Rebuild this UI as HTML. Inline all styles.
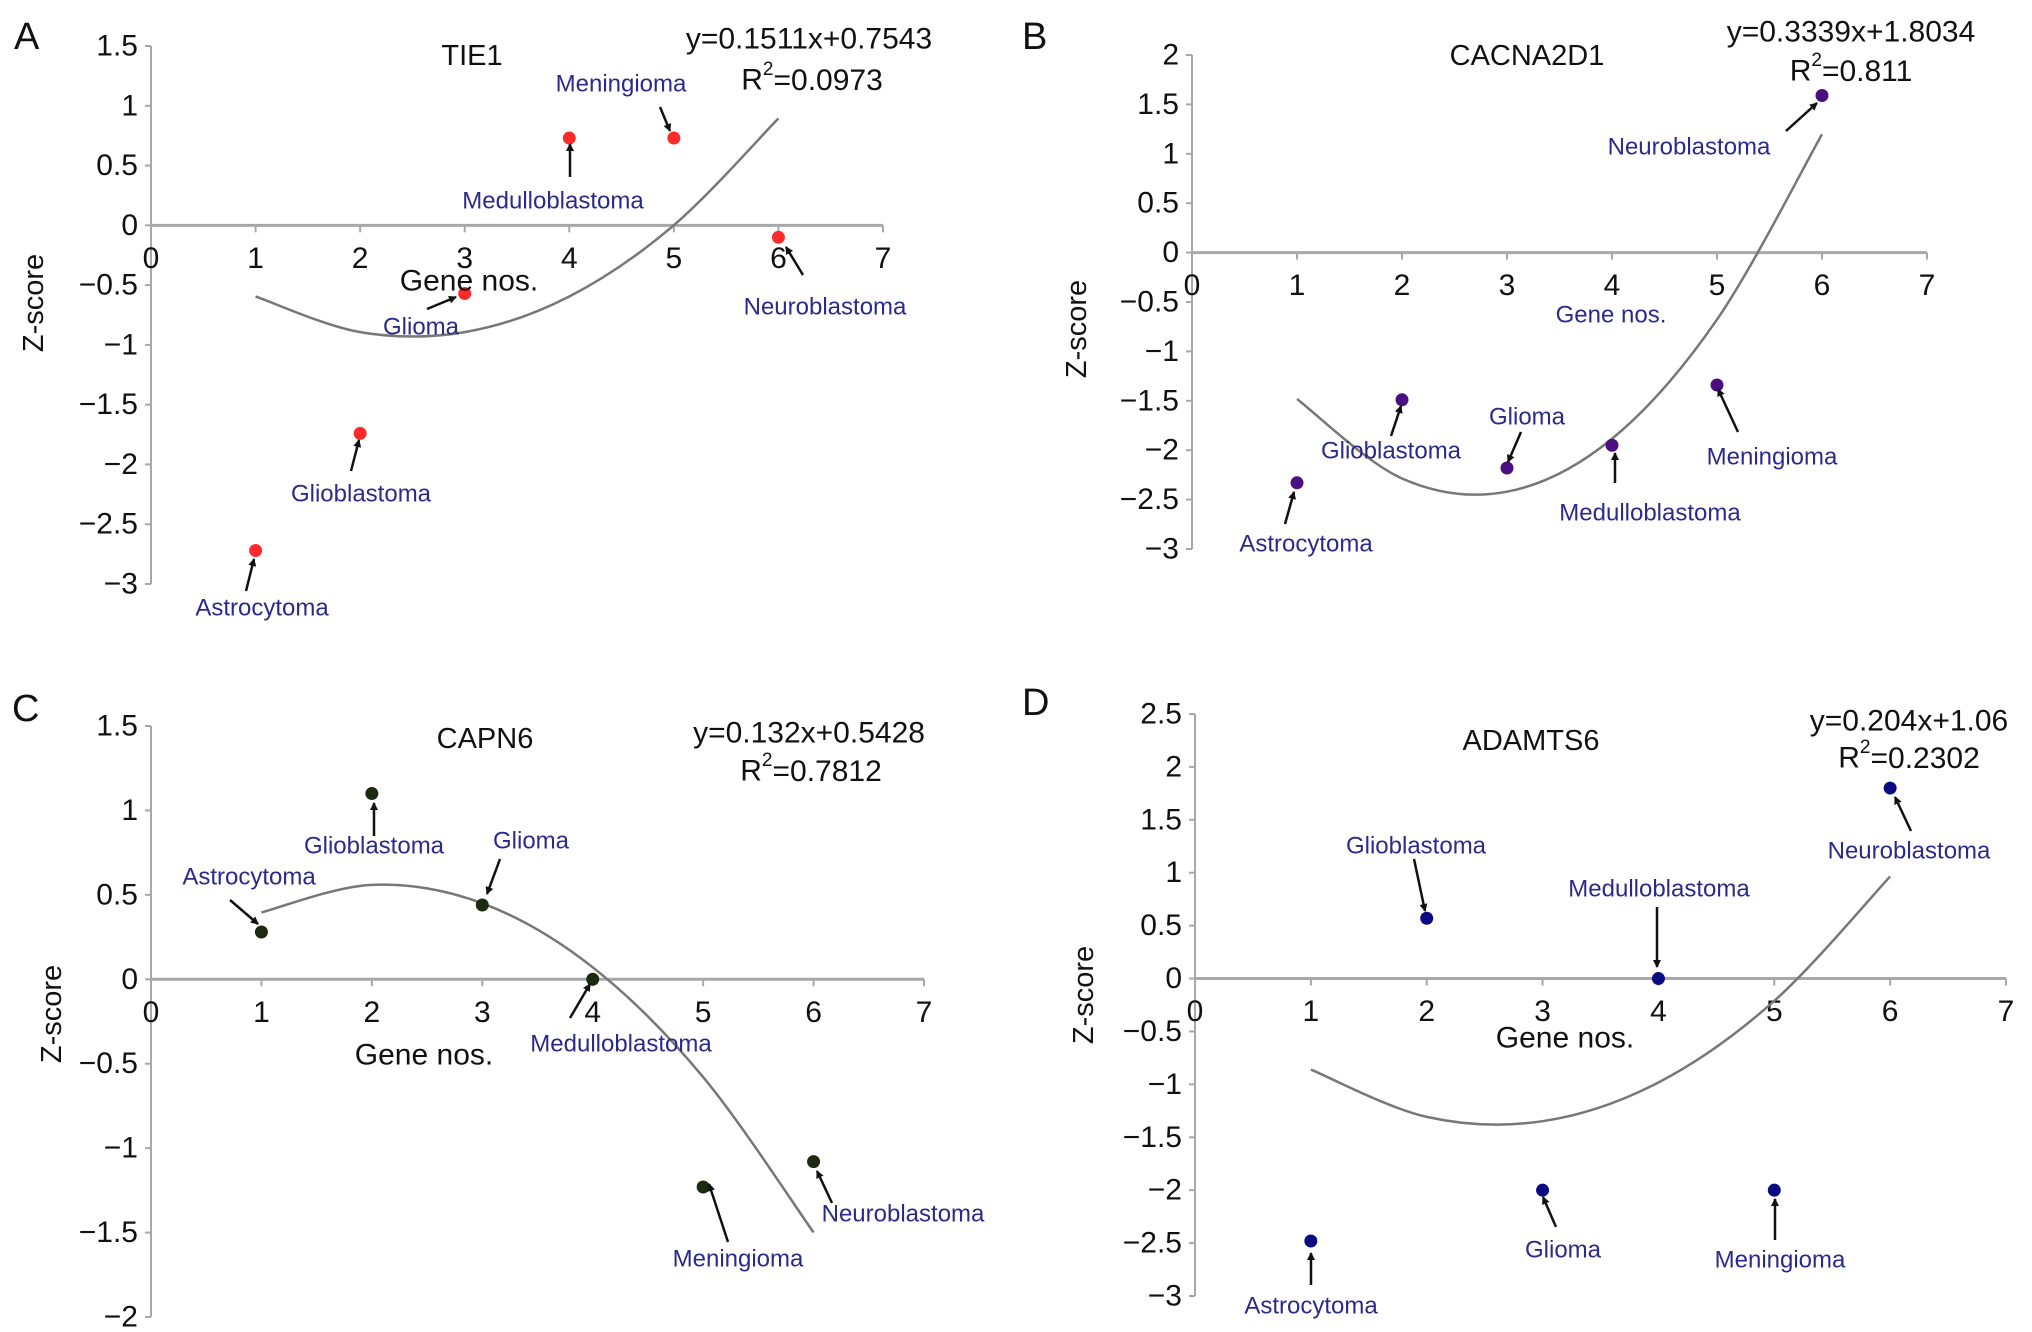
<!DOCTYPE html>
<html><head><meta charset="utf-8">
<style>
html,body{margin:0;padding:0;background:#fff;}
svg{display:block;font-family:"Liberation Sans",Arial,sans-serif;}
</style></head>
<body>
<svg id="fig" width="2032" height="1332" viewBox="0 0 2032 1332" xmlns="http://www.w3.org/2000/svg">
<defs>
<marker id="ah" markerWidth="8" markerHeight="8" refX="7" refY="4" orient="auto" markerUnits="userSpaceOnUse"><path d="M0,0 L8,4 L0,8 Z" fill="#111"/></marker>
</defs>
</svg>
<script>
// ---- data ----
const xCats = [1,2,3,4,5,6];
const xTicks = [0,1,2,3,4,5,6,7];
const namesA = ["Astrocytoma","Glioblastoma","Glioma","Medulloblastoma","Meningioma","Neuroblastoma"];
const valuesA = [-2.72,-1.74,-0.57,0.73,0.73,-0.1];
const trendA = [-0.595,-0.893,-0.893,-0.595,0.001,0.895];
const yTicksA = [1.5,1,0.5,0,-0.5,-1,-1.5,-2,-2.5,-3];
const valuesB = [-2.33,-1.49,-2.18,-1.95,-1.34,1.59];
const trendB = [-1.482,-2.286,-2.420,-1.884,-0.678,1.198];
const yTicksB = [2,1.5,1,0.5,0,-0.5,-1,-1.5,-2,-2.5,-3];
const valuesC = [0.28,1.1,0.44,0,-1.23,-1.08];
const trendC = [0.396,0.559,0.450,0.071,-0.579,-1.499];
const yTicksC = [1.5,1,0.5,0,-0.5,-1,-1.5,-2];
const valuesD = [-2.48,0.57,-2,0,-2,1.8];
const trendD = [-0.860,-1.307,-1.348,-0.982,-0.211,0.965];
const yTicksD = [2.5,2,1.5,1,0.5,0,-0.5,-1,-1.5,-2,-2.5,-3];

const svg = document.getElementById('fig');
const NS = 'http://www.w3.org/2000/svg';
function mk(tag, attrs, parent){
  const e = document.createElementNS(NS, tag);
  for (const k in attrs) e.setAttribute(k, attrs[k]);
  (parent||svg).appendChild(e);
  return e;
}
function txt(s, x, y, size, fill, anchor, parent){
  const t = mk('text', {x:x, y:y, 'font-size':size, fill:fill, 'text-anchor':anchor||'middle', 'dominant-baseline':'central'}, parent);
  t.textContent = s;
  return t;
}
function fmt(v){ return v<0 ? '\u2212'+String(-v) : String(v); }

const panels = [
 {id:'a', letter:'A', title:'TIE1', eq:'y=0.1511x+0.7543', r2:'0.0973', x0:151, x7:883, yTop:46, yTopVal:1.5, yBot:584, yBotVal:-3,
  ticks:yTicksA, vals:valuesA, trend:trendA, color:'#ff2a2a', geneColor:'#111',
  L:{letter:[14,37], title:[472,56], eq:[809,39], r2:[812,80], gene:[469,281], z:[34,303]},
  labels:[[262,608,246,591,254,559],[361,494,351,471,359,440],[421,327,427,309,456,297],[553,201,570,177,570,144],[621,84,660,107,670,131],[825,307,803,275,786,247]]},
 {id:'b', letter:'B', title:'CACNA2D1', eq:'y=0.3339x+1.8034', r2:'0.811', x0:1192, x7:1927, yTop:55, yTopVal:2, yBot:549, yBotVal:-3,
  ticks:yTicksB, vals:valuesB, trend:trendB, color:'#4b0f82', geneColor:'#2b2a8a',
  L:{letter:[1022,37], title:[1527,56], eq:[1851,32], r2:[1851,71], gene:[1611,315], z:[1077,329]},
  labels:[[1306,544,1285,524,1294,492],[1391,451,1391,436,1401,406],[1527,417,1521,432,1508,462],[1650,513,1615,483,1615,453],[1772,457,1738,432,1718,389],[1689,147,1786,131,1817,103]]},
 {id:'c', letter:'C', title:'CAPN6', eq:'y=0.132x+0.5428', r2:'0.7812', x0:151, x7:924, yTop:726, yTopVal:1.5, yBot:1317, yBotVal:-2,
  ticks:yTicksC, vals:valuesC, trend:trendC, color:'#1e2a10', geneColor:'#111',
  L:{letter:[12,709], title:[485,739], eq:[809,733], r2:[811,771], gene:[424,1055], z:[52,1014]},
  labels:[[249,877,230,900,258,924],[374,846,374,836,374,803],[531,841,500,859,487,894],[621,1044,570,1018,590,984],[738,1259,728,1242,709,1184],[903,1214,832,1203,817,1171]]},
 {id:'d', letter:'D', title:'ADAMTS6', eq:'y=0.204x+1.06', r2:'0.2302', x0:1195, x7:2006, yTop:714, yTopVal:2.5, yBot:1296, yBotVal:-3,
  ticks:yTicksD, vals:valuesD, trend:trendD, color:'#0a0a82', geneColor:'#111',
  L:{letter:[1022,703], title:[1531,741], eq:[1909,721], r2:[1909,758], gene:[1565,1038], z:[1084,995]},
  labels:[[1311,1306,1311,1285,1311,1253],[1416,846,1414,859,1425,911],[1563,1250,1556,1227,1543,1197],[1659,889,1657,907,1657,967],[1780,1260,1775,1240,1775,1199],[1909,851,1911,831,1895,797]]}
];

panels.forEach(p => {
  const g = mk('g', {});
  
  
  const X = v => p.x0 + (p.x7 - p.x0) * v / 7;
  const Y = v => p.yTop + (p.yBot - p.yTop) * (p.yTopVal - v) / (p.yTopVal - p.yBotVal);
  // y axis
  const ya = mk('line', {x1:p.x0, y1:p.yTop, x2:p.x0, y2:p.yBot, stroke:'#a8a8a8', 'stroke-width':2}, g);
  
  
  p.ticks.forEach(t => {
    mk('line', {x1:p.x0-6, y1:Y(t), x2:p.x0, y2:Y(t), stroke:'#a8a8a8', 'stroke-width':2}, g);
    const tl = txt(fmt(t), p.x0-13, Y(t), 30, '#111', 'end', g);
    
    
  });
  // x axis at zero
  const xa = mk('line', {x1:p.x0, y1:Y(0), x2:p.x7, y2:Y(0), stroke:'#a8a8a8', 'stroke-width':3}, g);
  
  
  xTicks.forEach(t => {
    mk('line', {x1:X(t), y1:Y(0), x2:X(t), y2:Y(0)+7, stroke:'#a8a8a8', 'stroke-width':2}, g);
    const tl = txt(String(t), X(t), Y(0)+33, 30, '#111', 'middle', g);
    
    
  });
  // trend curve (Catmull-Rom through trend values)
  const pts = xCats.map((c,i) => [X(c), Y(p.trend[i])]);
  let d = 'M' + pts[0][0] + ',' + pts[0][1];
  for (let i = 0; i < pts.length-1; i++) {
    const p0 = pts[Math.max(0,i-1)], p1 = pts[i], p2 = pts[i+1], p3 = pts[Math.min(pts.length-1,i+2)];
    const c1 = [p1[0]+(p2[0]-p0[0])/6, p1[1]+(p2[1]-p0[1])/6];
    const c2 = [p2[0]-(p3[0]-p1[0])/6, p2[1]-(p3[1]-p1[1])/6];
    d += ' C' + c1[0] + ',' + c1[1] + ' ' + c2[0] + ',' + c2[1] + ' ' + p2[0] + ',' + p2[1];
  }
  const tr = mk('path', {d:d, fill:'none', stroke:'#777', 'stroke-width':2.5}, g);
  
  
  // points
  xCats.forEach((c,i) => {
    const pt = mk('circle', {cx:X(c), cy:Y(p.vals[i]), r:6.5, fill:p.color}, g);
    
    
  });
  // labels + arrows
  p.labels.forEach((l,i) => {
    const a = mk('line', {x1:l[2], y1:l[3], x2:l[4], y2:l[5], stroke:'#111', 'stroke-width':2.5, 'marker-end':'url(#ah)'}, g);
    
    
    const t = txt(namesA[i], l[0], l[1], 24, '#2b2a8a', 'middle', g);
    
    
  });
  const L = p.L;
  const lt = txt(p.letter, L.letter[0], L.letter[1], 38, '#111', 'start', g);
  
  
  const tt = txt(p.title, L.title[0], L.title[1], 29, '#111', 'middle', g);
  
  
  const et = txt(p.eq, L.eq[0], L.eq[1], 30, '#111', 'middle', g);
  
  
  const rt = mk('text', {x:L.r2[0], y:L.r2[1], 'font-size':30, fill:'#111', 'text-anchor':'middle', 'dominant-baseline':'central'}, g);
  
  
  rt.innerHTML = 'R<tspan dy="-11" font-size="19">2</tspan><tspan dy="11">=' + p.r2 + '</tspan>';
  const gt = txt('Gene nos.', L.gene[0], L.gene[1], p.geneColor === '#111' ? 30 : 24, p.geneColor, 'middle', g);
  
  
  const zt = txt('Z-score', 0, 0, 29, '#111', 'middle', g);
  zt.setAttribute('transform', 'translate(' + L.z[0] + ',' + L.z[1] + ') rotate(-90)');
  
  
});
</script>
</body></html>
